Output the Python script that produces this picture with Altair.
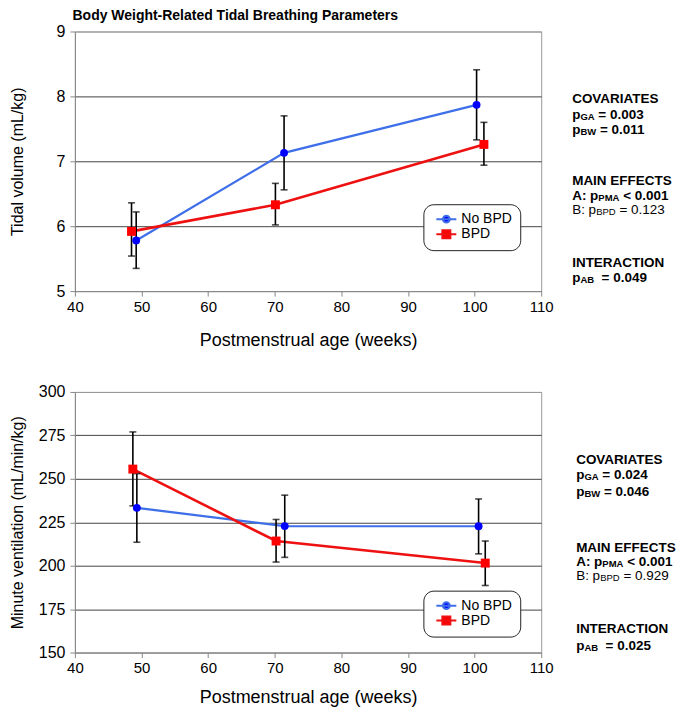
import altair as alt
import pandas as pd

FONT = "Liberation Sans"
groups = ["No BPD", "BPD"]
line_colors = ["#3f6fe8", "#ee1111"]
mark_colors = ["#0000ff", "#ff0000"]

# ---- Top panel: Tidal volume (mL/kg) ----
tv_pma_nobpd = [49.2, 71.4, 100.3]
tv_val_nobpd = [5.78, 7.13, 7.87]
tv_lo_nobpd = [5.35, 6.56, 7.33]
tv_hi_nobpd = [6.22, 7.70, 8.41]
tv_pma_bpd = [48.5, 70.1, 101.4]
tv_val_bpd = [5.92, 6.33, 7.26]
tv_lo_bpd = [5.54, 6.02, 6.94]
tv_hi_bpd = [6.36, 6.66, 7.60]

# ---- Bottom panel: Minute ventilation (mL/min/kg) ----
mv_pma_nobpd = [49.3, 71.5, 100.6]
mv_val_nobpd = [233.3, 222.8, 222.7]
mv_lo_nobpd = [213.5, 204.8, 206.8]
mv_hi_nobpd = [253.0, 240.6, 238.4]
mv_pma_bpd = [48.7, 70.2, 101.6]
mv_val_bpd = [255.6, 214.2, 201.5]
mv_lo_bpd = [234.4, 202.1, 188.6]
mv_hi_bpd = [277.0, 226.6, 214.2]

x_ticks = [40, 50, 60, 70, 80, 90, 100, 110]
tv_ticks = [5, 6, 7, 8, 9]
mv_ticks = [150, 175, 200, 225, 250, 275, 300]

B = 13.5  # main annotation font size
S = 9.5   # subscript font size
top_notes = [
    [("COVARIATES", B, True)],
    [("p", B, True), ("GA", S, True), (" = 0.003", B, True)],
    [("p", B, True), ("BW", S, True), (" = 0.011", B, True)],
    [("MAIN EFFECTS", B, True)],
    [("A: p", B, True), ("PMA", S, True), (" < 0.001", B, True)],
    [("B: p", B, False), ("BPD", S, False), (" = 0.123", B, False)],
    [("INTERACTION", B, True)],
    [("p", B, True), ("AB", S, True), ("  = 0.049", B, True)],
]
bottom_notes = [
    [("COVARIATES", B, True)],
    [("p", B, True), ("GA", S, True), (" = 0.024", B, True)],
    [("p", B, True), ("BW", S, True), (" = 0.046", B, True)],
    [("MAIN EFFECTS", B, True)],
    [("A: p", B, True), ("PMA", S, True), (" < 0.001", B, True)],
    [("B: p", B, False), ("BPD", S, False), (" = 0.929", B, False)],
    [("INTERACTION", B, True)],
    [("p", B, True), ("AB", S, True), ("  = 0.025", B, True)],
]
top_note_y = [71.7, 88, 102.7, 154, 169, 182.7, 236, 250.7]
bottom_note_y = [72.3, 87.3, 104, 160, 174, 188, 241.3, 258]

W_REG = {' ': 278, '=': 584, '<': 584, '.': 278, ':': 278, 'p': 556, 'A': 667, 'B': 667,
         'D': 722, 'G': 778, 'M': 833, 'P': 667, 'W': 944}
W_BOLD = {' ': 278, '=': 584, '<': 584, '.': 278, ':': 333, 'p': 611, 'A': 722, 'B': 722,
          'D': 722, 'G': 778, 'M': 833, 'P': 667, 'W': 944}


def text_width(s, size, bold):
    table = W_BOLD if bold else W_REG
    total = 0
    for ch in s:
        total += 556 if ch.isdigit() else table.get(ch, 600)
    return total * size / 1000.0


def make_df(pma_a, val_a, lo_a, hi_a, pma_b, val_b, lo_b, hi_b):
    rows = []
    for p, v, lo, hi in zip(pma_a, val_a, lo_a, hi_a):
        rows.append({"group": groups[0], "pma": p, "val": v, "lo": lo, "hi": hi})
    for p, v, lo, hi in zip(pma_b, val_b, lo_b, hi_b):
        rows.append({"group": groups[1], "pma": p, "val": v, "lo": lo, "hi": hi})
    return pd.DataFrame(rows)


circle_path = "M-2.5,0H2.5M-0.85,0A0.85,0.85,0,1,0,0.85,0A0.85,0.85,0,1,0,-0.85,0Z"
square_path = "M-2.5,0H2.5M-1,-1H1V1H-1Z"


def panel(df, ydom, yticks, ytitle, ytitle_pad, xtitle_pad, notes, note_x, note_y, leg_y, h):
    xs = alt.Scale(domain=[40, 110], nice=False, zero=False)
    ys = alt.Scale(domain=ydom, nice=False, zero=False)
    cond = f"datum.value == {ydom[0]} || datum.value == {ydom[1]}"
    xax = alt.Axis(values=x_ticks, title="Postmenstrual age (weeks)", grid=False,
                   tickSize=5, labelPadding=3, titlePadding=xtitle_pad, labelFontSize=15,
                   titleFontSize=18, labelFlush=False)
    yax = alt.Axis(values=yticks, title=ytitle, grid=True,
                   gridColor=alt.condition(cond, alt.value("#999999"), alt.value("#444444")),
                   tickSize=5, labelPadding=5, titlePadding=ytitle_pad, labelFontSize=16,
                   titleFontSize=16, labelFlush=False)
    base = alt.Chart(df)
    layers = []
    for i, g in enumerate(groups):
        layers.append(
            base.transform_filter(alt.datum.group == g)
            .mark_line(color=line_colors[i], strokeWidth=2.2 if i == 0 else 2.6)
            .encode(x=alt.X("pma:Q", scale=xs, axis=xax),
                    y=alt.Y("val:Q", scale=ys, axis=yax))
        )
    layers.append(
        base.mark_errorbar(ticks=True, size=7, thickness=1.6, color="black")
        .encode(x=alt.X("pma:Q", scale=xs, axis=xax),
                y=alt.Y("lo:Q", scale=ys, axis=yax), y2="hi:Q")
    )
    layers.append(
        base.transform_filter(alt.datum.group == groups[0])
        .mark_point(shape="circle", filled=True, size=62, opacity=1, color=mark_colors[0])
        .encode(x=alt.X("pma:Q", scale=xs, axis=xax), y=alt.Y("val:Q", scale=ys, axis=yax))
    )
    layers.append(
        base.transform_filter(alt.datum.group == groups[1])
        .mark_square(size=80, opacity=1, color=mark_colors[1])
        .encode(x=alt.X("pma:Q", scale=xs, axis=xax), y=alt.Y("val:Q", scale=ys, axis=yax))
    )
    leg = alt.Legend(title=None, orient="none", legendX=349, legendY=leg_y,
                     symbolSize=64, symbolStrokeWidth=2, symbolOffset=8, labelOffset=8,
                     labelFont=FONT, labelFontSize=14, labelColor="black", padding=8,
                     rowPadding=-3, strokeColor="#222222", cornerRadius=10,
                     fillColor="white", symbolOpacity=1)
    layers.append(
        base.transform_filter("false")
        .mark_point(filled=True, opacity=1)
        .encode(
            fill=alt.Fill("group:N", scale=alt.Scale(domain=groups, range=mark_colors), legend=leg),
            stroke=alt.Stroke("group:N", scale=alt.Scale(domain=groups, range=line_colors), legend=leg),
            shape=alt.Shape("group:N", scale=alt.Scale(domain=groups, range=[circle_path, square_path]), legend=leg),
        )
    )
    one = pd.DataFrame({"k": [0]})
    for line, yy in zip(notes, note_y):
        xx = note_x
        for seg, size, bold in line:
            stripped = seg.lstrip(" ")
            xx += text_width(seg[: len(seg) - len(stripped)], size, bold)
            layers.append(
                alt.Chart(one).mark_text(text=stripped, align="left", baseline="alphabetic",
                                         font=FONT, fontSize=size,
                                         fontWeight="bold" if bold else "normal",
                                         color="black")
                .encode(x=alt.value(xx), y=alt.value(yy + (1 if size < B else 0)))
            )
            xx += text_width(stripped, size, bold)
    return alt.layer(*layers).properties(width=467, height=h)


df_tv = make_df(tv_pma_nobpd, tv_val_nobpd, tv_lo_nobpd, tv_hi_nobpd,
                tv_pma_bpd, tv_val_bpd, tv_lo_bpd, tv_hi_bpd)
df_mv = make_df(mv_pma_nobpd, mv_val_nobpd, mv_lo_nobpd, mv_hi_nobpd,
                mv_pma_bpd, mv_val_bpd, mv_lo_bpd, mv_hi_bpd)

top = panel(df_tv, [5, 9], tv_ticks, "Tidal volume  (mL/kg)", 31, 17, top_notes, 498,
            top_note_y, 173, 260)
bottom = panel(df_mv, [150, 300], mv_ticks, "Minute ventilation  (mL/min/kg)", 13, 13,
               bottom_notes, 502, bottom_note_y, 199, 261)

chart = alt.vconcat(
    top, bottom, spacing=33, padding=0,
    title=alt.TitleParams("Body Weight-Related Tidal Breathing Parameters", anchor="start",
                          dx=64, fontSize=14, font=FONT, fontWeight="bold", offset=0,
                          color="black"),
).resolve_scale(
    fill="independent", stroke="independent", shape="independent"
).resolve_legend(
    fill="independent", stroke="independent", shape="independent"
).configure_view(stroke="#999999", strokeWidth=1).configure_axis(
    domainColor="#888888", tickColor="#888888", labelFont=FONT, titleFont=FONT,
    labelColor="black", titleColor="black", titleFontWeight="normal"
)

chart.save("out.html", embed_options={"renderer": "svg", "actions": False})
